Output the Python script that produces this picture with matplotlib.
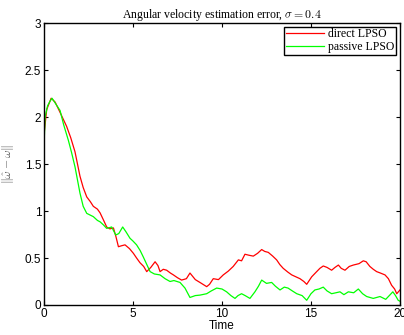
import numpy as np
import matplotlib.pyplot as plt

plt.rcParams['mathtext.fontset'] = 'cm'

# values
t_direct = [0, 0.02, 0.15, 0.4, 0.62, 0.9, 1.27, 1.5, 1.74, 2.02, 2.2, 2.4, 2.6, 2.77, 3.0, 3.15, 3.35,
            3.52, 3.7, 3.9, 4.05, 4.18, 4.35, 4.55, 4.8, 5.02, 5.2, 5.39, 5.6, 5.77, 6.0, 6.24, 6.4,
            6.52, 6.7, 6.89, 7.1, 7.27, 7.5, 7.73, 8.0, 8.2, 8.5, 8.76, 9.14, 9.3, 9.51, 9.8, 10.07,
            10.35, 10.63, 10.92, 11.1, 11.29, 11.5, 11.76, 12.0, 12.23, 12.4, 12.6, 12.85, 13.07,
            13.25, 13.44, 13.7, 13.92, 14.15, 14.38, 14.6, 14.76, 15.04, 15.32, 15.5, 15.69, 15.9,
            16.16, 16.35, 16.54, 16.7, 16.91, 17.15, 17.38, 17.7, 17.94, 18.1, 18.31, 18.5, 18.69,
            18.9, 19.16, 19.35, 19.53, 19.7, 19.82, 20.0]
direct = [0, 1.85, 2.08, 2.2, 2.16, 2.05, 1.9, 1.78, 1.63, 1.37, 1.25, 1.15, 1.1, 1.05, 1.02, 0.98,
          0.9, 0.83, 0.81, 0.82, 0.72, 0.62, 0.63, 0.64, 0.6, 0.55, 0.5, 0.45, 0.41, 0.355, 0.4, 0.46,
          0.42, 0.355, 0.38, 0.37, 0.34, 0.32, 0.29, 0.265, 0.28, 0.34, 0.27, 0.24, 0.195, 0.22, 0.28,
          0.27, 0.32, 0.36, 0.41, 0.48, 0.47, 0.54, 0.53, 0.52, 0.55, 0.59, 0.57, 0.56, 0.52, 0.48,
          0.43, 0.39, 0.35, 0.32, 0.3, 0.28, 0.25, 0.22, 0.3, 0.355, 0.39, 0.415, 0.4, 0.37, 0.4,
          0.425, 0.39, 0.37, 0.41, 0.425, 0.44, 0.47, 0.46, 0.41, 0.38, 0.355, 0.34, 0.32, 0.28,
          0.21, 0.17, 0.12, 0.16]

t_passive = [0, 0.02, 0.06, 0.2, 0.34, 0.45, 0.9, 1.1, 1.37, 1.55, 1.74, 2.02, 2.2, 2.4, 2.77, 3.0,
             3.15, 3.35, 3.52, 3.8, 4.03, 4.2, 4.42, 4.6, 4.83, 5.0, 5.2, 5.4, 5.58, 5.8, 5.96, 6.2,
             6.52, 6.8, 7.08, 7.3, 7.64, 7.92, 8.2, 8.5, 8.76, 9.14, 9.4, 9.7, 10.0, 10.26, 10.5,
             10.73, 10.9, 11.1, 11.3, 11.57, 11.85, 12.05, 12.23, 12.5, 12.79, 13.0, 13.26, 13.5,
             13.71, 13.95, 14.2, 14.5, 14.76, 15.0, 15.22, 15.45, 15.69, 15.9, 16.16, 16.4, 16.63,
             16.85, 17.1, 17.4, 17.66, 17.9, 18.13, 18.5, 18.88, 19.2, 19.6, 19.75, 19.9, 20.0]
passive = [0, 1.8, 2.0, 2.12, 2.17, 2.2, 2.07, 1.92, 1.75, 1.62, 1.47, 1.19, 1.05, 0.975, 0.94, 0.9,
           0.885, 0.85, 0.815, 0.83, 0.745, 0.76, 0.83, 0.78, 0.71, 0.68, 0.64, 0.58, 0.51, 0.42,
           0.355, 0.33, 0.32, 0.28, 0.25, 0.26, 0.24, 0.18, 0.08, 0.1, 0.105, 0.12, 0.15, 0.18, 0.17,
           0.14, 0.1, 0.07, 0.1, 0.12, 0.1, 0.07, 0.14, 0.2, 0.265, 0.23, 0.24, 0.2, 0.16, 0.19,
           0.18, 0.15, 0.12, 0.1, 0.05, 0.12, 0.16, 0.17, 0.19, 0.15, 0.12, 0.13, 0.14, 0.11, 0.14,
           0.13, 0.17, 0.12, 0.09, 0.07, 0.09, 0.06, 0.14, 0.1, 0.05, 0.04]

fig = plt.figure(figsize=(4.04, 3.35), dpi=100)
ax = fig.add_axes([0.109, 0.0896, 0.881, 0.8415])
ax.plot(t_direct, direct, color='#ff0000', lw=0.9, label='direct LPSO')
ax.plot(t_passive, passive, color='#00ff00', lw=0.9, label='passive LPSO')

ax.set_xlim(0, 20)
ax.set_ylim(0, 3)
ax.set_xticks([0, 5, 10, 15, 20])
ax.set_yticks([0, 0.5, 1, 1.5, 2, 2.5, 3])
ax.set_yticklabels(['0', '0.5', '1', '1.5', '2', '2.5', '3'])
ax.tick_params(direction='in', top=True, right=True, labelsize=8.5, length=3, pad=2)
for lab in ax.get_xticklabels() + ax.get_yticklabels():
    lab.set_family('Liberation Sans')
for s in ax.spines.values():
    s.set_linewidth(1.0)

ax.set_title(r'Angular velocity estimation error, $\sigma = 0.4$', fontsize=8.5,
             family='Liberation Serif', pad=4)
ax.set_xlabel('Time', fontsize=8.5, family='Liberation Sans', labelpad=0)
ax.set_ylabel(r'$\|\hat{\omega}-\omega\|$', fontsize=8.5, color='#555555', labelpad=6)

leg = ax.legend(loc='upper right', prop={'family': 'Liberation Serif', 'size': 8.5},
                fancybox=False, framealpha=1, edgecolor='black', borderpad=0.15,
                labelspacing=0.05, handlelength=3.2, handletextpad=0.4, borderaxespad=0.3)
leg.get_frame().set_linewidth(1.0)

plt.savefig('out.png', dpi=100)
